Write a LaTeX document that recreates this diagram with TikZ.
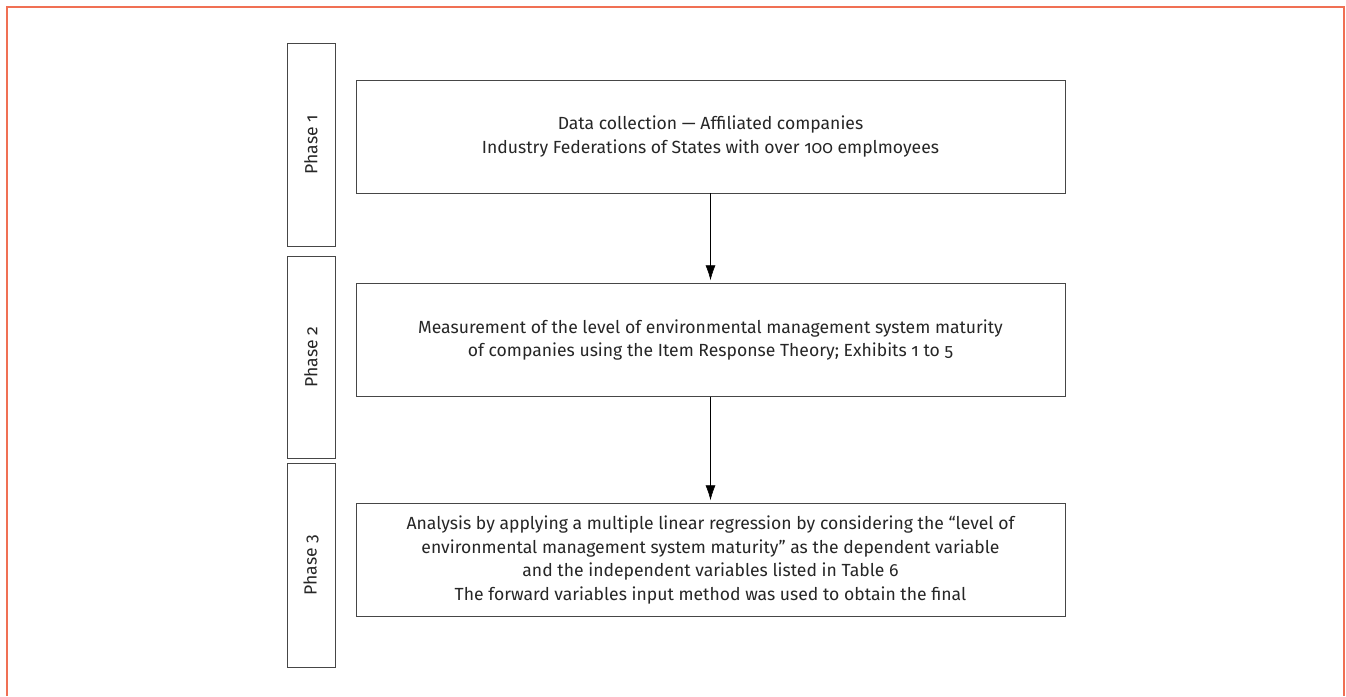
\documentclass[tikz,border=0pt]{standalone}
\usepackage{fontspec}
\setmainfont{Fira Sans}[Numbers=OldStyle]
\usepackage{tikz}
\usetikzlibrary{arrows.meta}
\definecolor{frameorange}{RGB}{240,112,84}
\definecolor{boxline}{RGB}{70,70,70}

\begin{document}
\begin{tikzpicture}[
    phasebox/.style={draw=boxline, line width=0.6pt, minimum width=1.2cm, minimum height=5.075cm, inner sep=0pt},
    stagebox/.style={draw=boxline, line width=0.6pt, minimum width=17.725cm, minimum height=2.825cm, align=center, text=black!85, font=\fontsize{12.5}{17}\selectfont}
]
\useasboundingbox (0,0) rectangle (33.65,-17.4);
% frame of the figure, open at the bottom
\draw[frameorange, line width=1pt] (0.175,-17.4) -- (0.175,-0.175) -- (33.6,-0.175) -- (33.6,-17.4);
%============
\node[phasebox, xshift=7.775cm, yshift=-3.6125cm] (P1) {\rotatebox{90}{\fontsize{12.5}{14}\selectfont\color{black!85}Phase 1}};
\node[phasebox, xshift=7.775cm, yshift=-8.925cm, minimum height=5.05cm] (P2) {\rotatebox{90}{\fontsize{12.5}{14}\selectfont\color{black!85}Phase 2}};
\node[phasebox, xshift=7.775cm, yshift=-14.125cm, minimum height=5.1cm] (P3) {\rotatebox{90}{\fontsize{12.5}{14}\selectfont\color{black!85}Phase 3}};
%============
\node[stagebox, xshift=17.7625cm, yshift=-3.4125cm] (C) {Data collection --- Affiliated companies\\Industry Federations of States with over 100 emplmoyees};
\node[stagebox, xshift=17.7625cm, yshift=-8.5cm] (M) {Measurement of the level of environmental management system maturity\\of companies using the Item Response Theory; Exhibits 1 to 5};
\node[stagebox, xshift=17.7625cm, yshift=-14cm] (R) {Analysis by applying a multiple linear regression by considering the ``level of\\environmental management system maturity'' as the dependent variable\\and the independent variables listed in Table 6\\The forward variables input method was used to obtain the final};
%==========
\draw[->, thin, >={Latex[length=0.375cm, width=0.25cm]}, shorten >=2pt] (C) -- (M);
\draw[->, thin, >={Latex[length=0.375cm, width=0.25cm]}, shorten >=2pt] (M) -- (R);
\end{tikzpicture}
\end{document}
